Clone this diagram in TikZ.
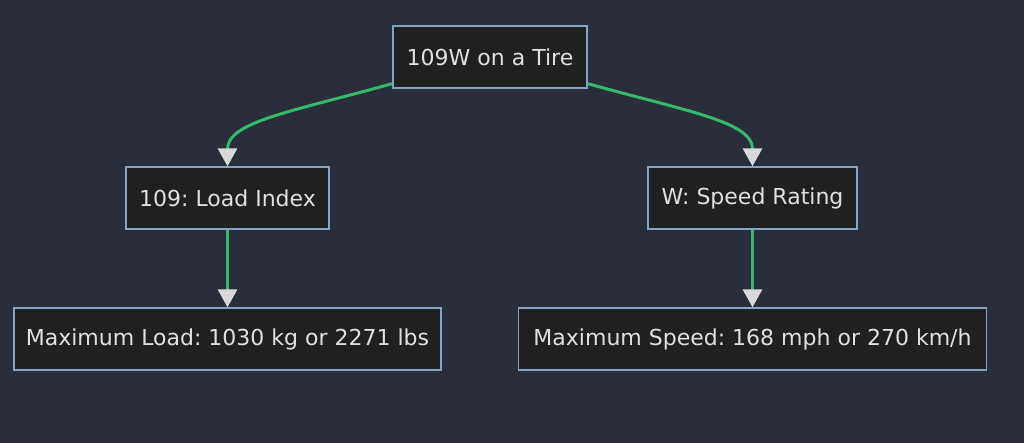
\documentclass[tikz,border=0pt]{standalone}
\usepackage{fontspec}
\setmainfont{DejaVu Sans}
\usetikzlibrary{arrows.meta}
\definecolor{bg}{HTML}{2A2E3B}
\definecolor{boxfill}{HTML}{1F2020}
\definecolor{boxline}{HTML}{86A3C6}
\definecolor{boxtext}{HTML}{E0E0E0}
\definecolor{linkgreen}{HTML}{33BB6A}
\definecolor{tipgray}{HTML}{D8D8D8}
\frenchspacing
\begin{document}
\begin{tikzpicture}[x=1pt,y=-1pt]
\tikzstyle{box}=[draw=boxline,fill=boxfill,line width=1.3pt,text=boxtext,font=\fontsize{22}{26}\selectfont,minimum height=62pt,inner xsep=4pt]
\tikzstyle{link}=[draw=linkgreen,line width=3pt,-{Triangle[length=18pt,width=19pt,color=tipgray,fill=tipgray]}]
\useasboundingbox[fill=bg] (0,0) rectangle (1024,443);
\node[box,minimum width=194pt] (tire) at (490,57) {109W on a Tire};
\node[box,minimum width=203pt] (load) at (227.5,198) {109: Load Index};
\node[box,minimum width=209pt] (speed) at (752.5,198) {W: Speed Rating};
\node[box,minimum width=427pt] (maxload) at (227.5,339) {Maximum Load: 1030 kg or 2271 lbs};
\node[box,minimum width=468pt] (maxspeed) at (752.5,339) {Maximum Speed: 168 mph or 270 km/h};
\draw[link] ([yshift=5pt]tire.south west) .. controls (290,112) and (227.5,122) .. (load.north);
\draw[link] ([yshift=5pt]tire.south east) .. controls (690,112) and (752.5,122) .. (speed.north);
\draw[link] (load) -- (maxload);
\draw[link] (speed) -- (maxspeed);
\end{tikzpicture}
\end{document}
